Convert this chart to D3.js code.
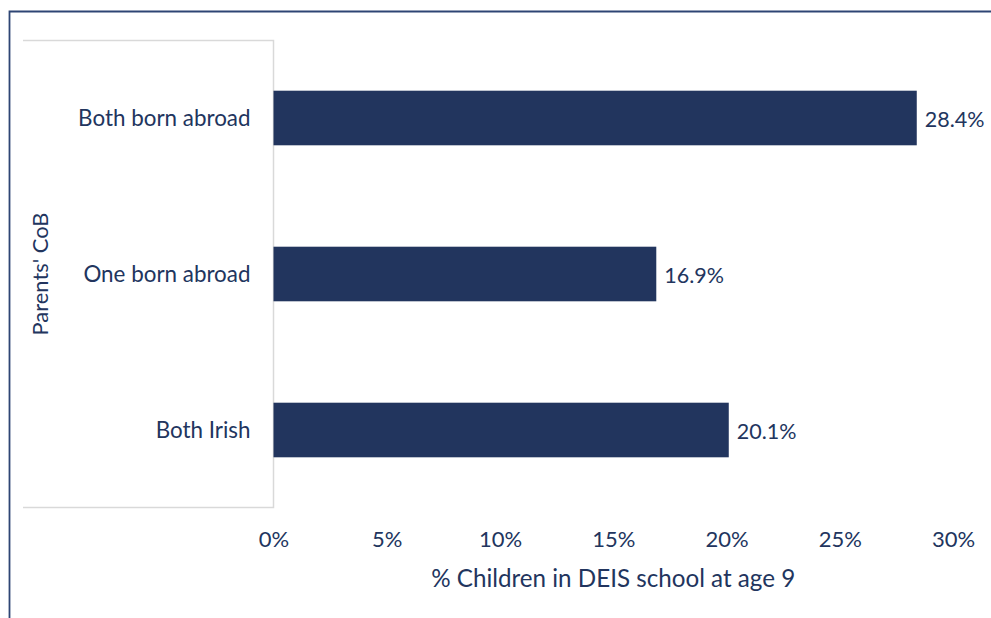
<!DOCTYPE html>
<html><head><meta charset="utf-8">
<script src="https://cdn.jsdelivr.net/npm/d3@7"></script>
<style>html,body{margin:0;padding:0;background:#fff;}svg{display:block;}</style>
</head><body>
<script>
const categories = ["Both born abroad", "One born abroad", "Both Irish"];
const values = [28.4, 16.9, 20.1];
const tickValues = [0, 5, 10, 15, 20, 25, 30];
const xTitle = "% Children in DEIS school at age 9";
const yTitle = "Parents' CoB";

const W = 991, H = 618;
const font = "Lato, 'Open Sans', sans-serif";
const textColor = "#22355E";
const barColor = "#22355E";

const svg = d3.select("body").append("svg").attr("width", W).attr("height", H);

// outer frame (top + left)
svg.append("path").attr("d", `M9.5,${H} V11.5 H${W}`)
  .attr("fill", "none").attr("stroke", "#2E4574").attr("stroke-width", 1.8);

const plot = {left: 273.5, right: 953, top: 40, bottom: 508};
const x = d3.scaleLinear().domain([0, 30]).range([plot.left, plot.right]);
const y = d3.scaleBand().domain(categories).range([plot.top, plot.bottom]).paddingInner(0.65).paddingOuter(0.325);

// light grey box around category area
svg.append("path").attr("d", `M23,40.5 H${plot.left} V507.5 H23`)
  .attr("fill", "none").attr("stroke", "#D9D9D9").attr("stroke-width", 1.5);

// bars
svg.selectAll("rect.bar").data(categories).enter().append("rect")
  .attr("class", "bar")
  .attr("x", x(0))
  .attr("y", d => y(d))
  .attr("width", (d, i) => x(values[i]) - x(0))
  .attr("height", y.bandwidth())
  .attr("fill", barColor);

// value labels
svg.selectAll("text.val").data(categories).enter().append("text")
  .attr("x", (d, i) => x(values[i]) + 8)
  .attr("y", d => y(d) + y.bandwidth() / 2 + 1)
  .attr("dy", "0.35em")
  .attr("font-family", font).attr("font-size", 21.5).attr("fill", textColor)
  .text((d, i) => values[i].toFixed(1) + "%");

// category labels
const yAxis = d3.axisLeft(y).tickSize(0).tickPadding(23);
const gy = svg.append("g").attr("transform", `translate(${plot.left},1)`).call(yAxis);
gy.select(".domain").remove();
gy.selectAll("text").attr("font-family", font).attr("font-size", 22.4).attr("fill", textColor);

// x axis ticks
const xAxis = d3.axisBottom(x).tickValues(tickValues).tickSize(0).tickPadding(0).tickFormat(d => d + "%");
const gx = svg.append("g").attr("transform", `translate(0,531)`).call(xAxis);
gx.select(".domain").remove();
gx.selectAll("text").attr("font-family", font).attr("font-size", 22).attr("fill", textColor);

// axis titles
svg.append("text").attr("x", (plot.left + plot.right) / 2).attr("y", 587)
  .attr("text-anchor", "middle").attr("font-family", font).attr("font-size", 24.2)
  .attr("fill", textColor).text(xTitle);

svg.append("text").attr("transform", `translate(48,274) rotate(-90)`)
  .attr("text-anchor", "middle").attr("font-family", font).attr("font-size", 21.9)
  .attr("fill", textColor).text(yTitle);
</script>
</body></html>
